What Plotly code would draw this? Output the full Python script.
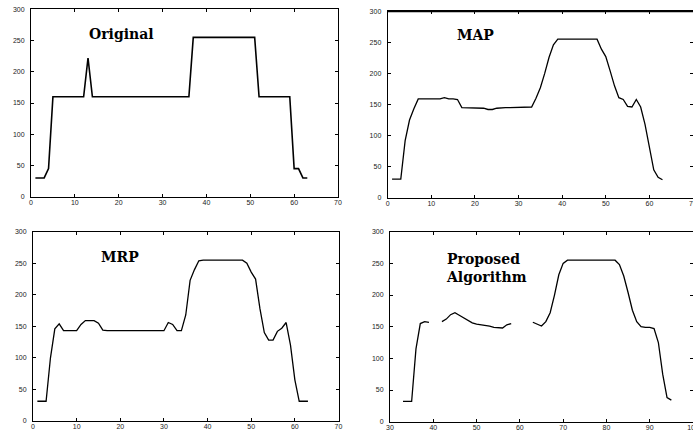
import plotly.graph_objects as go

# ---------------- data ----------------
x_orig = list(range(1, 64))
y_orig = [30, 30, 30, 45] + [160] * 8 + [222] + [160] * 23 + [255] * 15 + [160] * 8 + [45, 45, 30, 30]

x_map = list(range(1, 64))
y_map = [30, 30, 30, 92, 125, 143, 159, 159, 159, 159, 159, 159, 161, 159, 159, 158,
         145, 145, 145, 145, 145, 144, 142, 142, 144, 145, 145, 145, 145, 145, 145, 145,
         146, 160, 177, 200, 226, 246, 255, 255, 255, 255, 255, 255, 255, 255, 255, 255,
         239, 227, 204, 180, 161, 158, 147, 146, 158, 146, 118, 80, 45, 33, 29]

x_mrp = list(range(1, 64))
y_mrp = [31, 31, 31, 100, 146, 154, 143, 143, 143, 143, 153, 159, 159, 159, 155, 144,
         143, 143, 143, 143, 143, 142, 142, 142, 142, 143, 143, 143, 143, 143, 156, 153,
         143, 143, 168, 223, 240, 254, 255, 255, 255, 255, 255, 255, 255, 255, 255, 255,
         250, 236, 225, 178, 140, 128, 128, 142, 147, 156, 120, 65, 31, 31, 31]

x_prop = list(range(33, 96))
y_prop = [32, 32, 32, 115, 155, 158, 157, None, None, 158, 162, 169, 172, 168, 164, 160,
          156, 154, 153, 153, 151, 149, 148, 148, 153, 155, None, None, None, None, 157, 154,
          151, 158, 172, 200, 232, 250, 255, 255, 255, 255, 255, 255, 255, 255, 255, 255,
          255, 255, 248, 230, 204, 176, 158, 150, 149, 149, 147, 125, 75, 38, 34, 32, 32]

titles = ["Original", "MAP", "MRP", "Proposed<br>Algorithm"]
y_ticks = [0, 50, 100, 150, 200, 250, 300]
x_ticks_a = [0, 10, 20, 30, 40, 50, 60, 70]
x_ticks_b = [30, 40, 50, 60, 70, 80, 90, 100]

# ---------------- figure ----------------
W, H = 693, 434
def px(v): return v / W
def py(v): return 1 - v / H

fig = go.Figure()
line_main = dict(color="black", width=1.3)
fig.add_trace(go.Scatter(x=x_orig, y=y_orig, mode="lines", line=dict(color="black", width=1.6),
                         xaxis="x", yaxis="y", showlegend=False))
fig.add_trace(go.Scatter(x=x_map, y=y_map, mode="lines", line=line_main,
                         xaxis="x2", yaxis="y2", showlegend=False))
fig.add_trace(go.Scatter(x=x_mrp, y=y_mrp, mode="lines", line=line_main,
                         xaxis="x3", yaxis="y3", showlegend=False))
fig.add_trace(go.Scatter(x=x_prop, y=y_prop, mode="lines", line=line_main, connectgaps=False,
                         xaxis="x4", yaxis="y4", showlegend=False))

tickfont = dict(family="Liberation Sans, Arial", size=7, color="#222")
common = dict(showline=True, linecolor="black", linewidth=1, mirror="ticks",
              ticks="inside", ticklen=3, tickcolor="black", showgrid=False,
              zeroline=False, tickfont=tickfont, automargin=False,
              ticklabeloverflow="allow")

doms = {
    1: ([px(31), px(338)], [py(196.7), py(9.3)], [0, 70], x_ticks_a),
    2: ([px(387.7), 1.0], [py(197.8), py(11.2)], [0, 70], x_ticks_a),
    3: ([px(33), px(338.5)], [py(420.8), py(231.8)], [0, 70], x_ticks_a),
    4: ([px(390), 1.0], [py(421.7), py(231.7)], [30, 100], x_ticks_b),
}
layout = dict(width=W, height=H, margin=dict(l=0, r=0, t=0, b=0, autoexpand=False),
              paper_bgcolor="white", plot_bgcolor="white")
for i, (xd, yd, xr, xt) in doms.items():
    s = "" if i == 1 else str(i)
    layout["xaxis" + s] = dict(domain=xd, range=xr, tickvals=xt, anchor="y" + s,
                               ticklabelstandoff=-1, **common)
    layout["yaxis" + s] = dict(domain=yd, range=[0, 300], tickvals=y_ticks, anchor="x" + s,
                               ticklabelstandoff=4, **common)
fig.update_layout(**layout)

# thick top border of the MAP panel
fig.add_shape(type="line", xref="x2 domain", yref="y2 domain", x0=0, x1=1, y0=1, y1=1,
              line=dict(color="black", width=2.2))

ann_font = dict(family="DejaVu Serif", size=14, color="black")
ann_pos = [(87, 34), (455, 35), (99, 257), (444, 268)]
for t, (ax, ay) in zip(titles, ann_pos):
    fig.add_annotation(x=px(ax), y=py(ay), xref="paper", yref="paper", text="<b>" + t + "</b>",
                       showarrow=False, xanchor="left", yanchor="middle", align="left",
                       font=ann_font)

fig.write_html("out.html", config={"displayModeBar": False},
               post_script="document.body.style.margin='0';document.body.style.overflow='hidden';")
